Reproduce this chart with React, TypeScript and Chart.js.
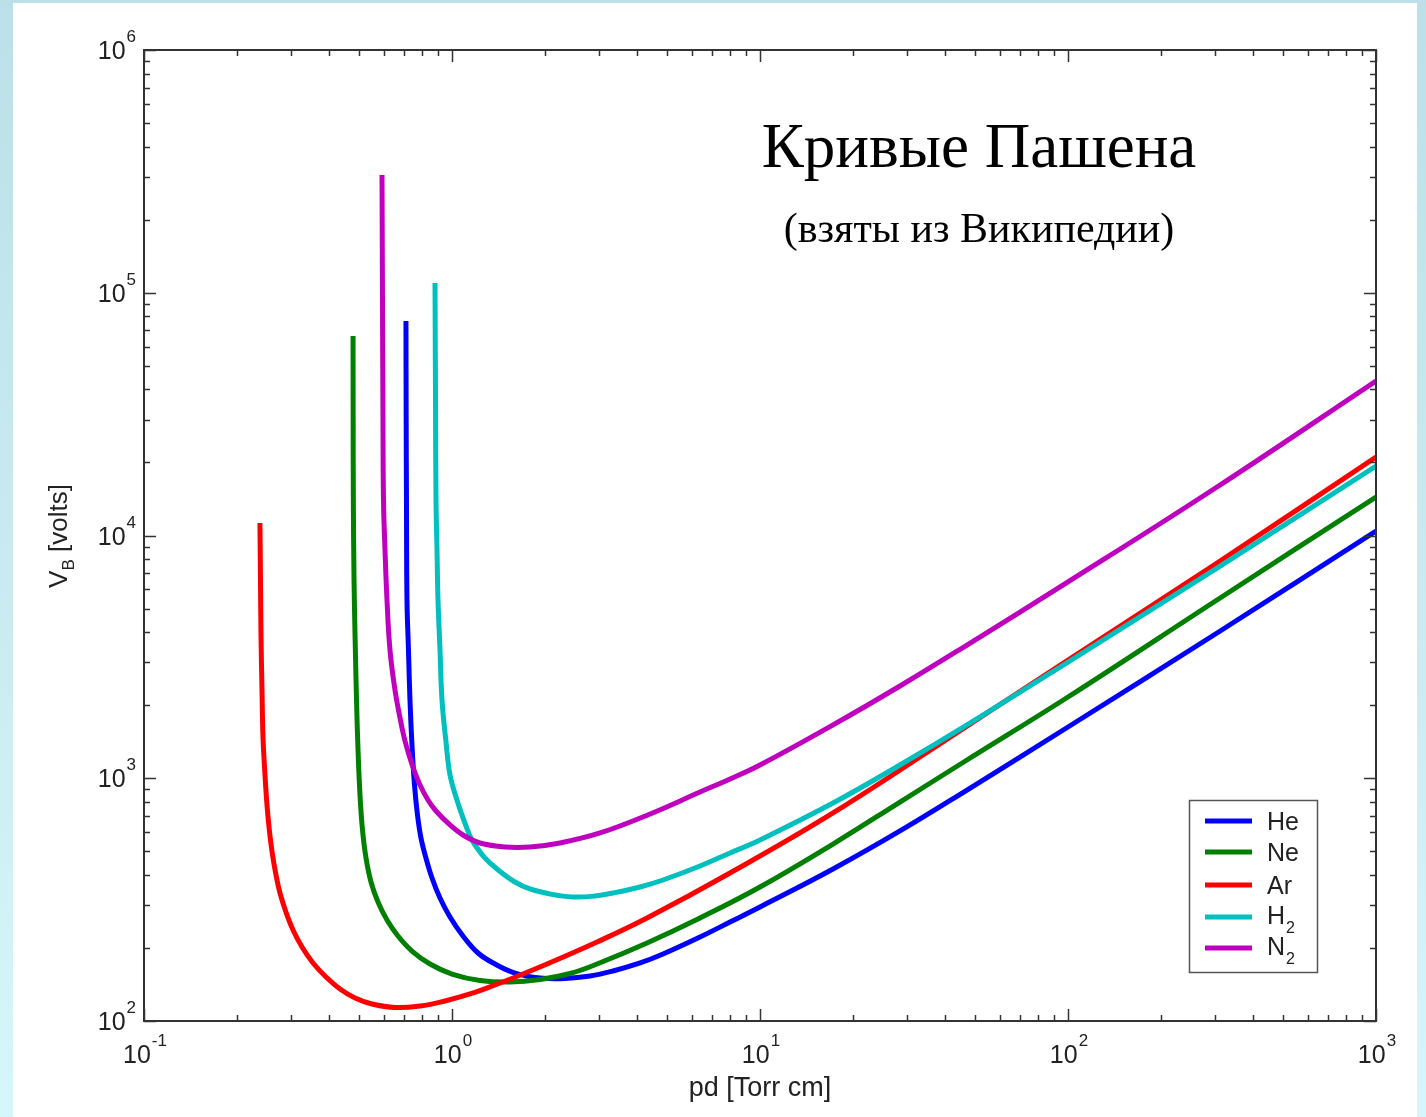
import React, { useEffect, useRef } from 'react';
import { Chart, registerables } from 'chart.js';

Chart.register(...registerables);

// ---- Data (pd in Torr·cm, breakdown voltage V_B in volts) ----
const seriesNames = ['He', 'Ne', 'Ar', 'H2', 'N2'];

const hePd = [0.7088, 0.7099, 0.7115, 0.7142, 0.7222, 0.7304, 0.7414, 0.7555, 0.7726, 0.793, 0.8231, 0.8613, 0.9142, 0.9852, 1.0857, 1.2147, 1.379, 1.6015, 1.9307, 2.3276, 2.8061, 3.3323, 4.0807, 4.8428, 6.386, 7.993, 10, 17.26, 28.48, 47.0, 100, 304.7, 1000];
const heV = [76470, 29910, 14000, 5424, 3376, 2101, 1371, 938.0, 705.9, 567.5, 469.3, 388.2, 321.1, 268.2, 224.0, 190.6, 171.7, 157.6, 150.4, 149.7, 153.2, 160.7, 173.4, 188.8, 221.8, 255.7, 294.9, 422.8, 606.5, 894.4, 1626, 3966, 10430];

const nePd = [0.4772, 0.4776, 0.4783, 0.4808, 0.4844, 0.4898, 0.4953, 0.5027, 0.5122, 0.5258, 0.5458, 0.5751, 0.6152, 0.6678, 0.7414, 0.8483, 1.0, 1.2328, 1.5428, 1.9307, 2.4162, 2.9571, 4.2969, 6.386, 10, 17.26, 28.48, 47.0, 100, 304.7, 1000];
const neV = [66330, 29910, 14000, 6557, 3892, 2101, 1307, 853.1, 612.2, 469.3, 373.8, 309.2, 260.6, 223.9, 194.2, 171.7, 156.1, 146.8, 144.7, 148.2, 156.9, 171.7, 209.6, 265.7, 356.5, 535.9, 798.1, 1189, 2161, 5424, 14410];

const arPd = [0.2379, 0.2389, 0.2398, 0.2416, 0.2434, 0.2471, 0.2508, 0.2556, 0.2614, 0.2683, 0.2764, 0.289, 0.3047, 0.3259, 0.3538, 0.3899, 0.4329, 0.4844, 0.5499, 0.653, 0.7873, 0.949, 1.1439, 1.379, 1.5778, 2.0341, 2.9571, 4.2969, 7.993, 17.26, 47.0, 100, 304.7, 1000];
const arV = [11260, 6557, 3892, 2310, 1479, 1031, 775.9, 600.7, 482.9, 399.5, 336.7, 281.2, 237.1, 201.7, 173.4, 151.8, 135.5, 124.4, 117.5, 113.7, 115.3, 120.9, 129.2, 140.7, 150.4, 171.7, 211.6, 265.7, 407.1, 719.4, 1641, 3070, 7703, 21060];

const h2Pd = [0.8807, 0.8841, 0.8873, 0.894, 0.9006, 0.9142, 0.928, 0.9561, 0.9852, 1.0304, 1.0857, 1.1439, 1.1876, 1.2798, 1.3999, 1.6015, 1.7918, 2.0805, 2.471, 2.9131, 3.3323, 4.0807, 4.8428, 6.386, 7.993, 10, 17.26, 28.48, 47.0, 100, 304.7, 1000];
const h2V = [109700, 36150, 14000, 8715, 5424, 3376, 2101, 1410, 1031, 837.0, 686.1, 578.3, 530.9, 469.3, 422.8, 373.8, 349.8, 333.6, 324.2, 327.3, 336.7, 356.5, 380.9, 435.0, 492.2, 556.9, 790.7, 1134, 1658, 3012, 7346, 19330];

const n2Pd = [0.5926, 0.5947, 0.5969, 0.5992, 0.606, 0.6151, 0.629, 0.6529, 0.6752, 0.6986, 0.7252, 0.7528, 0.7874, 0.8357, 0.8873, 0.9851, 1.0857, 1.2328, 1.486, 1.7918, 2.2422, 3.023, 4.395, 6.386, 7.993, 10, 17.26, 28.48, 47.0, 100, 304.7, 1000];
const n2V = [305600, 93350, 29910, 14000, 8715, 5424, 3376, 2310, 1822, 1479, 1247, 1081, 938, 813.6, 733, 642, 583.8, 541.1, 521.0, 521.0, 541.1, 595.0, 712.4, 877.7, 992.9, 1134, 1658, 2399, 3539, 6435, 15840, 43300];

const xDecades = [-1, 0, 1, 2, 3];
const yDecades = [2, 3, 4, 5, 6];

const titleText = 'Кривые Пашена';
const subtitleText = '(взяты из Википедии)';
const xTitle = 'pd [Torr cm]';

const colors = ['#0000ff', '#007f00', '#ff0000', '#00bfbf', '#bf00bf'];

const SANS = '"Liberation Sans", Arial, sans-serif';
const SERIF = '"Liberation Serif", "Times New Roman", serif';

function pairs(xs: number[], ys: number[]) {
  return xs.map((x, i) => ({ x, y: ys[i] }));
}

function drawPow(ctx: CanvasRenderingContext2D, exp: string, x: number, baseline: number, align: 'center' | 'right') {
  ctx.font = `25px ${SANS}`;
  const w1 = ctx.measureText('10').width;
  ctx.font = `17px ${SANS}`;
  const w2 = ctx.measureText(exp).width;
  const total = w1 + 1 + w2;
  const left = align === 'center' ? x - total / 2 : x - total;
  ctx.textAlign = 'left';
  ctx.textBaseline = 'alphabetic';
  ctx.font = `25px ${SANS}`;
  ctx.fillText('10', left, baseline);
  ctx.font = `17px ${SANS}`;
  ctx.fillText(exp, left + w1 + 1, baseline - 17);
}

const decorPlugin = {
  id: 'decor',
  afterDatasetsDraw(chart: any) {
    const ctx: CanvasRenderingContext2D = chart.ctx;
    const xs = chart.scales.x;
    const ys = chart.scales.y;
    const { left, right, top, bottom } = chart.chartArea;
    ctx.save();

    // frame
    ctx.strokeStyle = '#333';
    ctx.lineWidth = 2;
    ctx.strokeRect(left, top, right - left, bottom - top);

    // ticks (inward, mirrored on all sides)
    ctx.lineWidth = 1.5;
    ctx.beginPath();
    for (let i = 0; i < xDecades.length; i++) {
      const d = xDecades[i];
      const px = Math.round(xs.getPixelForValue(Math.pow(10, d))) + 0.5;
      ctx.moveTo(px, bottom); ctx.lineTo(px, bottom - 12);
      ctx.moveTo(px, top); ctx.lineTo(px, top + 12);
      if (i < xDecades.length - 1) {
        for (let m = 2; m <= 9; m++) {
          const p = Math.round(xs.getPixelForValue(m * Math.pow(10, d))) + 0.5;
          ctx.moveTo(p, bottom); ctx.lineTo(p, bottom - 6);
          ctx.moveTo(p, top); ctx.lineTo(p, top + 6);
        }
      }
    }
    for (let i = 0; i < yDecades.length; i++) {
      const d = yDecades[i];
      const py = Math.round(ys.getPixelForValue(Math.pow(10, d))) + 0.5;
      ctx.moveTo(left, py); ctx.lineTo(left + 12, py);
      ctx.moveTo(right, py); ctx.lineTo(right - 12, py);
      if (i < yDecades.length - 1) {
        for (let m = 2; m <= 9; m++) {
          const p = Math.round(ys.getPixelForValue(m * Math.pow(10, d))) + 0.5;
          ctx.moveTo(left, p); ctx.lineTo(left + 6, p);
          ctx.moveTo(right, p); ctx.lineTo(right - 6, p);
        }
      }
    }
    ctx.stroke();

    // tick labels
    ctx.fillStyle = '#222';
    for (const d of xDecades) {
      const px = xs.getPixelForValue(Math.pow(10, d));
      drawPow(ctx, String(d), px + 1, bottom + 42, 'center');
    }
    for (const d of yDecades) {
      const py = ys.getPixelForValue(Math.pow(10, d));
      drawPow(ctx, String(d), left - 8, py + 9, 'right');
    }

    // x title
    ctx.font = `27px ${SANS}`;
    ctx.textAlign = 'center';
    ctx.fillText(xTitle, (left + right) / 2, bottom + 75);

    // y title (V_B [volts]) rotated
    ctx.save();
    ctx.translate(67, 536);
    ctx.rotate(-Math.PI / 2);
    ctx.font = `26px ${SANS}`;
    const wV = ctx.measureText('V').width;
    ctx.font = `17px ${SANS}`;
    const wB = ctx.measureText('B').width;
    ctx.font = `26px ${SANS}`;
    const wRest = ctx.measureText(' [volts]').width;
    const tot = wV + wB + wRest;
    let cx = -tot / 2;
    ctx.textAlign = 'left';
    ctx.fillText('V', cx, 0);
    cx += wV;
    ctx.font = `17px ${SANS}`;
    ctx.fillText('B', cx, 7);
    cx += wB;
    ctx.font = `26px ${SANS}`;
    ctx.fillText(' [volts]', cx, 0);
    ctx.restore();

    // titles
    ctx.fillStyle = '#000';
    ctx.textAlign = 'center';
    ctx.font = `63px ${SERIF}`;
    ctx.fillText(titleText, 979, 167);
    ctx.font = `42px ${SERIF}`;
    ctx.fillText(subtitleText, 979, 242);

    // legend
    const bx = 1189.5, by = 800.5, bw = 128, bh = 172;
    ctx.fillStyle = '#fff';
    ctx.fillRect(bx, by, bw, bh);
    ctx.strokeStyle = '#555';
    ctx.lineWidth = 1.5;
    ctx.strokeRect(bx, by, bw, bh);
    const rows = [821, 852, 885, 917, 948];
    seriesNames.forEach((name, i) => {
      const ry = rows[i];
      ctx.strokeStyle = colors[i];
      ctx.lineWidth = 5;
      ctx.beginPath();
      ctx.moveTo(1205, ry);
      ctx.lineTo(1252, ry);
      ctx.stroke();
      ctx.fillStyle = '#222';
      ctx.textAlign = 'left';
      const sub = name[1] === '2';
      const base = sub ? ry + 7 : ry + 9;
      ctx.font = `25px ${SANS}`;
      const main = sub ? name[0] : name;
      ctx.fillText(main, 1267, base);
      if (sub) {
        const w = ctx.measureText(main).width;
        ctx.font = `16px ${SANS}`;
        ctx.fillText('2', 1267 + w + 1, base + 9);
      }
    });

    ctx.restore();
  },
};

export default function App() {
  const ref = useRef<HTMLCanvasElement | null>(null);

  useEffect(() => {
    const canvas = ref.current;
    if (!canvas) return;
    const datasets = [
      { label: seriesNames[0], data: pairs(hePd, heV), order: 5 },
      { label: seriesNames[1], data: pairs(nePd, neV), order: 4 },
      { label: seriesNames[2], data: pairs(arPd, arV), order: 3 },
      { label: seriesNames[3], data: pairs(h2Pd, h2V), order: 2 },
      { label: seriesNames[4], data: pairs(n2Pd, n2V), order: 1 },
    ].map((d, i) => ({
      ...d,
      borderColor: colors[i],
      backgroundColor: colors[i],
      borderWidth: 5,
      pointRadius: 0,
      tension: 0.4,
      fill: false,
    }));

    const chart = new Chart(canvas, {
      type: 'line',
      data: { datasets },
      options: {
        responsive: false,
        animation: false,
        layout: { padding: { left: 144, top: 50, right: 50, bottom: 96 } },
        plugins: { legend: { display: false }, tooltip: { enabled: false }, title: { display: false } },
        scales: {
          x: { type: 'logarithmic', min: 0.1, max: 1000, display: false },
          y: { type: 'logarithmic', min: 100, max: 1000000, display: false },
        },
      },
      plugins: [decorPlugin],
    });
    return () => chart.destroy();
  }, []);

  return (
    <div
      style={{
        position: 'absolute',
        left: 0,
        top: 0,
        width: 1426,
        height: 1117,
        overflow: 'hidden',
        background: 'linear-gradient(to bottom, #bde0e8 0%, #c8eaf0 50%, #d6f7f9 100%)',
      }}
    >
      <div style={{ position: 'absolute', left: 13, top: 3, width: 1404, height: 1114, background: '#fff' }} />
      <canvas ref={ref} width={1426} height={1117} style={{ position: 'absolute', left: 0, top: 0, width: 1426, height: 1117 }} />
    </div>
  );
}
